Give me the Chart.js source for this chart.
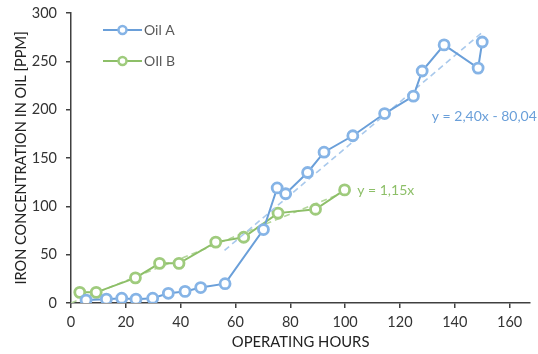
<!DOCTYPE html>
<html>
<head>
<meta charset="utf-8">
<script src="https://cdn.jsdelivr.net/npm/chart.js@4/dist/chart.umd.min.js"></script>
<style>
  html, body { margin: 0; padding: 0; background: #fff; }
  #wrap { width: 538px; height: 354px; }
</style>
</head>
<body>
<div id="wrap"><canvas id="ironChart"></canvas></div>
<script>
// Données
const oilAHours = [5.5, 12.9, 18.5, 23.7, 29.8, 35.5, 41.6, 47.3, 56.2, 70.2, 75.2, 78.3, 86.3, 92.3, 102.8, 114.4, 124.9, 128.1, 136.1, 148.5, 150.0];
const oilAIron = [3, 4, 5, 4, 5, 10, 12, 16, 20, 76, 119, 113, 135, 156, 173, 196, 214, 240, 267, 243, 270];

const oilBHours = [3.2, 9.2, 23.5, 32.3, 39.4, 52.8, 63.0, 75.5, 89.2, 99.8];
const oilBIron = [11, 11, 26, 41, 41, 63, 68, 93, 97, 117];

// Courbes de tendance (extrémités)
const trendAHours = [56, 150];
const trendAIron = [54.4, 279.96];
const trendBHours = [0, 100];
const trendBIron = [0, 115];

const seriesLabels = ["Oil A", "OIl B"];
const trendLabels = ["y = 2,40x - 80,04", "y = 1,15x"];
const xTicks = [0, 20, 40, 60, 80, 100, 120, 140, 160];

const FONT = "Lato, 'Open Sans', sans-serif";
const blueLine = "#6a9fd9";
const bluePoint = "#86b4e6";
const greenLine = "#8dbf68";
const greenPoint = "#9fcb7d";

function toPoints(xs, ys) {
  return xs.map((x, i) => ({ x: x, y: ys[i] }));
}

// Légende et étiquettes de tendance dessinées à la main
const overlayPlugin = {
  id: "overlay",
  afterDraw(chart) {
    const ctx = chart.ctx;
    const xs = chart.scales.x;
    const ys = chart.scales.y;
    ctx.save();
    ctx.font = "14px " + FONT;
    ctx.textBaseline = "middle";

    const rows = [
      { y: 30, line: blueLine, point: bluePoint, text: seriesLabels[0] },
      { y: 61, line: greenLine, point: greenPoint, text: seriesLabels[1] },
    ];
    rows.forEach((r) => {
      ctx.strokeStyle = r.line;
      ctx.lineWidth = 2;
      ctx.beginPath();
      ctx.moveTo(103, r.y);
      ctx.lineTo(142, r.y);
      ctx.stroke();
      ctx.beginPath();
      ctx.arc(122.5, r.y, 4, 0, Math.PI * 2);
      ctx.fillStyle = "#fff";
      ctx.fill();
      ctx.strokeStyle = r.point;
      ctx.lineWidth = 2.5;
      ctx.stroke();
      ctx.fillStyle = "#595959";
      ctx.textAlign = "left";
      ctx.fillText(r.text, 144, r.y);
    });

    ctx.fillStyle = blueLine;
    ctx.fillText(trendLabels[0], xs.getPixelForValue(131.6), ys.getPixelForValue(193));
    ctx.fillStyle = greenLine;
    ctx.fillText(trendLabels[1], xs.getPixelForValue(104.4), ys.getPixelForValue(116.5));
    ctx.restore();
  },
};

const ctx = document.getElementById("ironChart").getContext("2d");

new Chart(ctx, {
  type: "scatter",
  data: {
    datasets: [
      {
        label: seriesLabels[0],
        data: toPoints(oilAHours, oilAIron),
        showLine: true,
        borderColor: blueLine,
        borderWidth: 2,
        pointRadius: 5,
        pointBorderWidth: 2.8,
        pointBorderColor: bluePoint,
        pointBackgroundColor: "#fff",
      },
      {
        label: "trendA",
        data: toPoints(trendAHours, trendAIron),
        showLine: true,
        borderColor: "#a9c9ec",
        borderWidth: 1.6,
        borderDash: [6, 4],
        pointRadius: 0,
      },
      {
        label: seriesLabels[1],
        data: toPoints(oilBHours, oilBIron),
        showLine: true,
        borderColor: greenLine,
        borderWidth: 2,
        pointRadius: 5,
        pointBorderWidth: 2.8,
        pointBorderColor: greenPoint,
        pointBackgroundColor: "#fff",
      },
      {
        label: "trendB",
        data: toPoints(trendBHours, trendBIron),
        showLine: true,
        borderColor: "#b3d69b",
        borderWidth: 1.6,
        borderDash: [6, 4],
        pointRadius: 0,
      },
    ],
  },
  options: {
    responsive: true,
    maintainAspectRatio: false,
    animation: false,
    layout: { padding: { top: 13, right: 0, left: 0, bottom: 0 } },
    plugins: {
      legend: { display: false },
      tooltip: { enabled: false },
    },
    scales: {
      x: {
        type: "linear",
        min: 0,
        max: 167.5,
        afterBuildTicks(scale) {
          scale.ticks = xTicks.map((v) => ({ value: v }));
        },
        afterFit(scale) {
          scale.height = 51;
          scale.paddingLeft = 0;
          scale.paddingRight = 0;
        },
        border: { color: "#404040", width: 1.5 },
        grid: { drawOnChartArea: false, tickLength: 5, color: "#404040", lineWidth: 1.5 },
        ticks: { color: "#333", font: { family: FONT, size: 14.5 }, padding: 6 },
        title: {
          display: true,
          text: "OPERATING HOURS",
          color: "#222",
          font: { family: FONT, size: 14.8 },
          padding: { top: 0, bottom: 3 },
        },
      },
      y: {
        min: 0,
        max: 300,
        afterFit(scale) {
          scale.width = 71;
          scale.paddingTop = 0;
          scale.paddingBottom = 0;
        },
        border: { color: "#404040", width: 1.5 },
        grid: { drawOnChartArea: false, tickLength: 5, color: "#404040", lineWidth: 1.5 },
        ticks: { stepSize: 50, color: "#333", font: { family: FONT, size: 14.5 }, padding: 9 },
        title: {
          display: true,
          text: "IRON CONCENTRATION IN OIL [PPM]",
          color: "#222",
          font: { family: FONT, size: 14.6 },
          padding: { top: 13, bottom: 0 },
        },
      },
    },
  },
  plugins: [overlayPlugin],
});
</script>
</body>
</html>
